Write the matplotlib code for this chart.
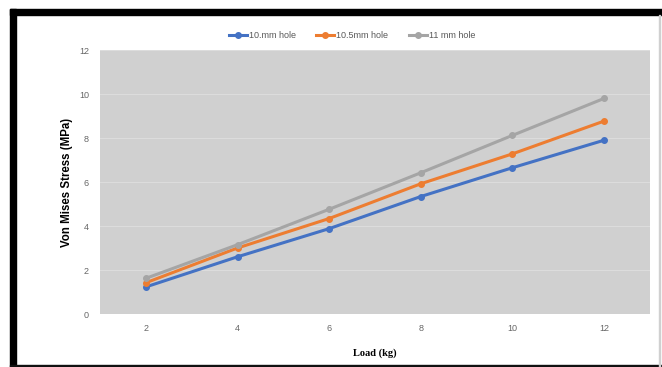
import matplotlib
matplotlib.use("Agg")
import matplotlib.pyplot as plt
from matplotlib.patches import Rectangle

# data
load = [2, 4, 6, 8, 10, 12]
stress_10 = [1.23, 2.60, 3.88, 5.34, 6.65, 7.90]
stress_105 = [1.42, 3.00, 4.34, 5.92, 7.28, 8.77]
stress_11 = [1.62, 3.15, 4.76, 6.42, 8.12, 9.80]
yticks = [0, 2, 4, 6, 8, 10, 12]

plt.rcParams['font.family'] = ['Liberation Sans', 'DejaVu Sans']

fig = plt.figure(figsize=(6.62, 3.67), dpi=100)
W, H = 662, 367

# black frame around the chart (like a screenshot border)
fig.patches.append(Rectangle((10 / W, 0), 6 / W, 1 - 9 / H, transform=fig.transFigure,
                             color='black', zorder=0))
fig.patches.append(Rectangle((10 / W, 1 - 15 / H), 1 - 10 / W, 6 / H, transform=fig.transFigure,
                             color='black', zorder=0))
fig.patches.append(Rectangle((10 / W, 0), 1 - 10 / W, 2.5 / H, transform=fig.transFigure,
                             color='#111111', zorder=0))
fig.patches.append(Rectangle((658.5 / W, 0), 1.2 / W, 1 - 15 / H, transform=fig.transFigure,
                             color='#d0d0d0', zorder=0))

ax = fig.add_axes([100 / W, (H - 314) / H, 550 / W, 264 / H])
ax.set_facecolor('#d0d0d0')

ax.plot(load, stress_10, color='#4472c4', lw=2.2, marker='o', ms=4, label='10.mm hole', zorder=3)
ax.plot(load, stress_105, color='#ed7d31', lw=2.2, marker='o', ms=4, label='10.5mm hole', zorder=3)
ax.plot(load, stress_11, color='#a5a5a5', lw=2.2, marker='o', ms=4, label='11 mm hole', zorder=3)

ax.set_xlim(1, 13)
ax.set_ylim(0, 12)
ax.set_xticks(load)
ax.set_yticks(yticks)
ax.grid(axis='y', color='#dcdcdc', lw=0.8)
ax.set_axisbelow(True)
for s in ax.spines.values():
    s.set_visible(False)
ax.tick_params(length=0, labelsize=6.5, labelcolor='#666666')
ax.tick_params(axis='x', pad=7)
ax.tick_params(axis='y', pad=8)

ax.set_xlabel('Load (kg)', fontfamily='Liberation Serif', fontweight='bold', fontsize=7.5, labelpad=11)
ax.set_ylabel('Von Mises Stress (MPa)', fontweight='bold', fontsize=8.3, labelpad=4)

ax.legend(loc='lower center', bbox_to_anchor=(0.458, 1.0), ncol=3, frameon=False,
          fontsize=6.5, handlelength=2.0, columnspacing=2.3, handletextpad=0.2,
          labelcolor='#595959', borderaxespad=0.7)

fig.savefig('out.png', dpi=100)
